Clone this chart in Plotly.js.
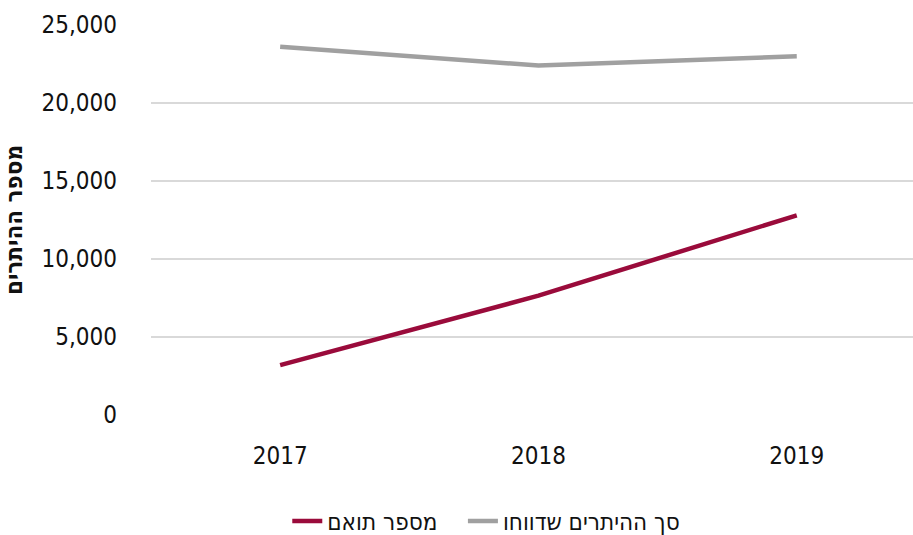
<!DOCTYPE html>
<html>
<head>
<meta charset="utf-8">
<script src="https://cdn.plot.ly/plotly-3.0.1.min.js"></script>
<style>html,body{margin:0;padding:0;background:#fff;}#chart{width:913px;height:535px;}</style>
</head>
<body>
<div id="chart"></div>
<script>
const years = ['2017', '2018', '2019'];
const totalReported = [23600, 22400, 23000];
const matched = [3200, 7650, 12800];
const nameTotal = 'סך ההיתרים שדווחו';
const nameMatched = 'מספר תואם';
const yTitle = 'מספר ההיתרים';
const yTicks = [0, 5000, 10000, 15000, 20000, 25000];
const yTickText = ['0', '5,000', '10,000', '15,000', '20,000', '25,000'];

const FONT = '"DejaVu Sans Condensed", "Liberation Sans Narrow", sans-serif';

const traces = [
  {x: years, y: totalReported, name: nameTotal, type: 'scatter', mode: 'lines',
   line: {color: '#a0a0a0', width: 4.5}, legendrank: 2},
  {x: years, y: matched, name: nameMatched + '\u00a0\u00a0\u00a0', type: 'scatter', mode: 'lines',
   line: {color: '#9a0b3b', width: 4.5}, legendrank: 1}
];

const layout = {
  width: 913, height: 535,
  margin: {l: 151, r: 0, t: 25, b: 120, autoexpand: false},
  paper_bgcolor: '#fff', plot_bgcolor: '#fff',
  font: {family: FONT, color: '#111', size: 24},
  showlegend: true,
  legend: {orientation: 'h', x: 0.44, xanchor: 'center', xref: 'paper', y: -0.215, yanchor: 'top',
           font: {size: 24, color: '#111'}, tracegroupgap: 0},
  xaxis: {type: 'category', range: [-0.5, 2.45], showgrid: false, zeroline: false, showline: false,
          ticks: '', tickfont: {size: 24}, ticklabelstandoff: 24, automargin: false},
  yaxis: {range: [0, 25000], tickvals: yTicks, ticktext: yTickText, showgrid: true,
          gridcolor: '#d9d9d9', gridwidth: 1.5, zeroline: false, showline: false, ticks: '',
          tickfont: {size: 24}, ticklabelstandoff: 33, automargin: false,
          title: {text: '<b>' + yTitle + '</b>', font: {size: 24}, standoff: 14}}
};

Plotly.newPlot('chart', traces, layout, {displayModeBar: false, staticPlot: true});
</script>
</body>
</html>
